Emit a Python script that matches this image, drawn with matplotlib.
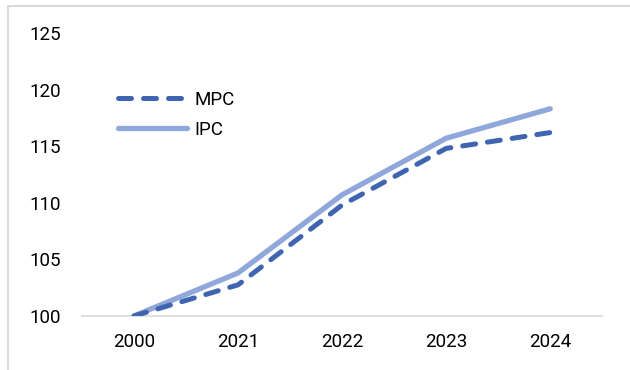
import numpy as np
import matplotlib.pyplot as plt
from matplotlib.patches import Rectangle

years = ['2000', '2021', '2022', '2023', '2024']
mpc = [100, 102.75, 109.8, 114.8, 116.2]
ipc = [100, 103.8, 110.7, 115.7, 118.3]

plt.rcParams['font.family'] = ['Roboto', 'DejaVu Sans']

fig = plt.figure(figsize=(6.3, 3.7), dpi=100)
ax = fig.add_axes([0.130, 0.146, 0.826, 0.765])

x = np.arange(len(years))
ax.plot(x, mpc, color='#3f65b0', lw=3.6, ls=(0, (2.6, 2.4)),
        dash_capstyle='round', solid_capstyle='round', label='MPC', zorder=3)
ax.plot(x, ipc, color='#8fa7da', lw=3.8, solid_capstyle='round',
        label='IPC', zorder=2)

ax.set_xlim(-0.5, 4.5)
ax.set_ylim(100, 125)
ax.set_xticks(x)
ax.set_xticklabels(years)
ax.set_yticks([100, 105, 110, 115, 120, 125])
ax.tick_params(axis='both', length=0, labelsize=13.5, colors='#000000')
ax.tick_params(axis='y', pad=15)
ax.tick_params(axis='x', pad=12)

for s in ['top', 'right', 'left']:
    ax.spines[s].set_visible(False)
ax.spines['bottom'].set_color('#d9d9d9')
ax.spines['bottom'].set_linewidth(1.2)
ax.spines['bottom'].set_zorder(1)

ax.legend(loc='upper left', bbox_to_anchor=(0.069, 0.795), frameon=False,
          fontsize=13.5, handlelength=3.7, handletextpad=0.4, labelspacing=0.64,
          borderaxespad=0, borderpad=0)

# light frame round the chart area
fig.patches.append(Rectangle((8 / 630, -0.1), 1.1, 1.1 - 6 / 370,
                             transform=fig.transFigure, fill=False,
                             edgecolor='#d9d9d9', lw=1.5))

fig.savefig('out.png', dpi=100)
